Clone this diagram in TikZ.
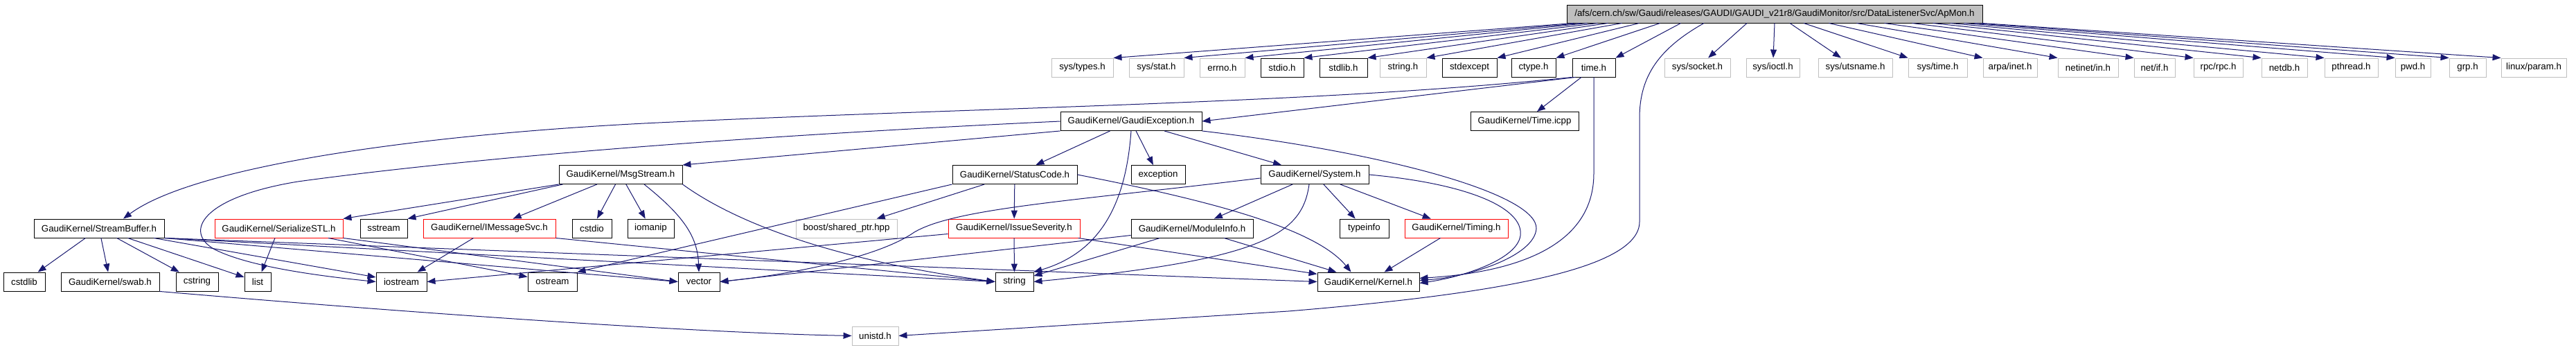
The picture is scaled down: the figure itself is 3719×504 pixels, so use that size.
\documentclass[tikz,border=0pt]{standalone}
\usepackage{fontspec}
\setmainfont{Liberation Sans}
\usetikzlibrary{arrows.meta}
\definecolor{edgeblue}{HTML}{191970}
\definecolor{boxgray}{HTML}{BFBFBF}
\tikzset{
  nd/.style={draw=black, fill=white, line width=0.9pt, minimum height=27pt, inner xsep=2pt, inner ysep=0pt, font=\fontsize{13.3}{15}\selectfont},
  gnd/.style={nd, draw=boxgray},
  rnd/.style={nd, draw=red},
  tnd/.style={nd, fill=boxgray, minimum height=26pt},
  dep/.style={draw=edgeblue, line width=1pt, -{Triangle[length=12pt,width=9pt]}}
}
\begin{document}
\begin{tikzpicture}[x=1pt,y=-1pt]
\useasboundingbox (0,0) rectangle (3719,504);
\fill[white] (0,0) rectangle (3719,504);

% title
\node[tnd, minimum width=600pt] (title) at (2562,20) {/afs/cern.ch/sw/Gaudi/releases/GAUDI/GAUDI\_v21r8/GaudiMonitor/src/DataListenerSvc/ApMon.h};

% top row
\node[gnd, minimum width=89pt] (types) at (1562.5,97.5) {sys/types.h};
\node[gnd, minimum width=79pt] (stat) at (1669.5,97.5) {sys/stat.h};
\node[gnd, minimum width=65pt] (errno) at (1764.5,97.5) {errno.h};
\node[nd, minimum width=62pt] (stdio) at (1851,97.5) {stdio.h};
\node[nd, minimum width=69pt] (stdlib) at (1939.5,97.5) {stdlib.h};
\node[gnd, minimum width=67pt] (stringh) at (2025.5,97.5) {string.h};
\node[nd, minimum width=79pt] (stdexcept) at (2121.5,97.5) {stdexcept};
\node[nd, minimum width=64pt] (ctype) at (2214,97.5) {ctype.h};
\node[nd, minimum width=62pt] (time) at (2301,97.5) {time.h};
\node[gnd, minimum width=95pt] (socket) at (2450.5,97.5) {sys/socket.h};
\node[gnd, minimum width=77pt] (ioctl) at (2559.5,97.5) {sys/ioctl.h};
\node[gnd, minimum width=107pt] (utsname) at (2678.5,97.5) {sys/utsname.h};
\node[gnd, minimum width=85pt] (systime) at (2797.5,97.5) {sys/time.h};
\node[gnd, minimum width=78pt] (inet) at (2902,97.5) {arpa/inet.h};
\node[gnd, minimum width=87pt] (netinet) at (3014.5,97.5) {netinet/in.h};
\node[gnd, minimum width=59pt] (netif) at (3110.5,97.5) {net/if.h};
\node[gnd, minimum width=71pt] (rpc) at (3202.5,97.5) {rpc/rpc.h};
\node[gnd, minimum width=66pt] (netdb) at (3298,97.5) {netdb.h};
\node[gnd, minimum width=77pt] (pthread) at (3394.5,97.5) {pthread.h};
\node[gnd, minimum width=51pt] (pwd) at (3483.5,97.5) {pwd.h};
\node[gnd, minimum width=53pt] (grp) at (3562.5,97.5) {grp.h};
\node[gnd, minimum width=94pt] (param) at (3658,97.5) {linux/param.h};

% row 2
\node[nd, minimum width=204pt] (gexc) at (1633,175) {GaudiKernel/GaudiException.h};
\node[nd, minimum width=156pt] (ticpp) at (2201,175) {GaudiKernel/Time.icpp};

% row 3
\node[nd, minimum width=178pt] (msg) at (896,252) {GaudiKernel/MsgStream.h};
\node[nd, minimum width=180pt] (status) at (1465,252) {GaudiKernel/StatusCode.h};
\node[nd, minimum width=78pt] (exception) at (1672,252) {exception};
\node[nd, minimum width=156pt] (system) at (1898,252) {GaudiKernel/System.h};

% row 4
\node[nd, minimum width=188pt] (sbuf) at (143,329.5) {GaudiKernel/StreamBuffer.h};
\node[rnd, minimum width=185pt] (ser) at (402.5,329.5) {GaudiKernel/SerializeSTL.h};
\node[nd, minimum width=68pt] (sstream) at (554,329.5) {sstream};
\node[rnd, minimum width=191pt] (imsg) at (706.5,329.5) {GaudiKernel/IMessageSvc.h};
\node[nd, minimum width=57pt] (cstdio) at (854.5,329.5) {cstdio};
\node[nd, minimum width=67pt] (iomanip) at (939.5,329.5) {iomanip};
\node[gnd, minimum width=146pt] (boost) at (1222,329.5) {boost/shared\_ptr.hpp};
\node[rnd, minimum width=190pt] (issue) at (1464,329.5) {GaudiKernel/IssueSeverity.h};
\node[nd, minimum width=176pt] (module) at (1721,329.5) {GaudiKernel/ModuleInfo.h};
\node[nd, minimum width=71pt] (typeinfo) at (1969.5,329.5) {typeinfo};
\node[rnd, minimum width=149pt] (timing) at (2102.5,329.5) {GaudiKernel/Timing.h};

% row 5
\node[nd, minimum width=60pt] (cstdlib) at (35,406.5) {cstdlib};
\node[nd, minimum width=142pt] (swab) at (159,406.5) {GaudiKernel/swab.h};
\node[nd, minimum width=61pt] (cstring) at (284.5,406.5) {cstring};
\node[nd, minimum width=38pt] (list) at (372,406.5) {list};
\node[nd, minimum width=73pt] (iostream) at (579.5,406.5) {iostream};
\node[nd, minimum width=71pt] (ostream) at (797.5,406.5) {ostream};
\node[nd, minimum width=60pt] (vector) at (1009,406.5) {vector};
\node[nd, minimum width=55pt] (string) at (1464.5,406.5) {string};
\node[nd, minimum width=147pt] (kernel) at (1975.5,406.5) {GaudiKernel/Kernel.h};

% row 6
\node[gnd, minimum width=67pt] (unistd) at (1263.5,484.5) {unistd.h};

% ---- edges from title
\draw[dep] ([xshift=10pt]title.south west) -- (types.north east);
\draw[dep] ([xshift=20pt]title.south west) -- (stat.north east);
\draw[dep] ([xshift=30pt]title.south west) -- (errno.north east);
\draw[dep] ([xshift=45pt]title.south west) -- (stdio.north east);
\draw[dep] ([xshift=60pt]title.south west) -- (stdlib.north east);
\draw[dep] ([xshift=80pt]title.south west) -- (stringh.north east);
\draw[dep] ([xshift=105pt]title.south west) -- (stdexcept.north east);
\draw[dep] ([xshift=135pt]title.south west) -- (ctype.north east);
\draw[dep] ([xshift=165pt]title.south west) -- (time.north east);
\draw[dep] ([xshift=-40pt]title.south) -- (socket);
\draw[dep] (title.south) -- (ioctl);
\draw[dep] ([xshift=22pt]title.south) -- (utsname);
\draw[dep] ([xshift=42pt]title.south) -- (systime.north west);
\draw[dep] ([xshift=-222pt]title.south east) -- (inet.north west);
\draw[dep] ([xshift=-182pt]title.south east) -- (netinet.north west);
\draw[dep] ([xshift=-142pt]title.south east) -- (netif.north west);
\draw[dep] ([xshift=-102pt]title.south east) -- (rpc.north west);
\draw[dep] ([xshift=-72pt]title.south east) -- (netdb.north west);
\draw[dep] ([xshift=-47pt]title.south east) -- (pthread.north west);
\draw[dep] ([xshift=-27pt]title.south east) -- (pwd.north west);
\draw[dep] ([xshift=-12pt]title.south east) -- (grp.north west);
\draw[dep] ([xshift=-2pt]title.south east) -- (param.north west);
\draw[dep] ([xshift=-102pt]title.south) .. controls (2395,70) and (2367,110) .. (2367,170) -- (2367,320) .. controls (2367,390) and (2150,425) .. (1860,449) -- (unistd.east);

% ---- time.h
\draw[dep] ([xshift=5pt]time.south west) -- (gexc.east);
\draw[dep] (time.south west) .. controls (1900,150) and (1400,155) .. (930,178) .. controls (600,195) and (280,240) .. ([xshift=35pt]sbuf.north);
\draw[dep] (time) -- (ticpp);
\draw[dep] (time.south) -- (2301,250) .. controls (2301,350) and (2200,392) .. ([yshift=5pt]kernel.east);

% ---- GaudiException.h
\draw[dep] (gexc.south west) -- (msg.north east);
\draw[dep] (gexc.west) .. controls (1100,195) and (700,225) .. (430,262) .. controls (290,285) and (265,335) .. (310,360) .. controls (360,385) and (460,398) .. (iostream.west);
\draw[dep] (gexc) -- (status);
\draw[dep] (gexc) -- (exception);
\draw[dep] (gexc) -- (system);
\draw[dep] (gexc.south) .. controls (1625,300) and (1585,365) .. (string.north east);
\draw[dep] (gexc.south east) .. controls (2000,220) and (2220,280) .. (2218,330) .. controls (2215,370) and (2120,400) .. ([yshift=2pt]kernel.east);

% ---- MsgStream.h
\draw[dep] (msg.south west) -- (ser.north east);
\draw[dep] ([xshift=6pt]msg.south west) -- (sstream.north east);
\draw[dep] (msg) -- (imsg);
\draw[dep] (msg) -- (cstdio);
\draw[dep] (msg) -- (iomanip);
\draw[dep] ([xshift=34pt]msg.south) .. controls (985,310) and (1007,340) .. (vector.north);
\draw[dep] (msg.south east) .. controls (1060,320) and (1200,375) .. (string.west);

% ---- StatusCode.h
\draw[dep] (status.south west) -- (ostream.north east);
\draw[dep] (status) -- (boost);
\draw[dep] (status) -- (issue);
\draw[dep] (status.east) .. controls (1750,290) and (1900,330) .. ([xshift=-25pt]kernel.north);

% ---- IssueSeverity.h
\draw[dep] (issue) -- (string);
\draw[dep] ([yshift=-8pt]issue.west) -- (iostream.east);
\draw[dep] (issue) -- (kernel);

% ---- ModuleInfo.h
\draw[dep] ([yshift=-10pt]module.west) -- (vector.east);
\draw[dep] (module) -- (string);
\draw[dep] (module) -- (kernel);

% ---- System.h
\draw[dep] (system) -- (module);
\draw[dep] (system) -- (typeinfo);
\draw[dep] (system) -- (timing);
\draw[dep] ([xshift=-8pt]system.south) .. controls (1880,340) and (1820,375) .. (string.east);
\draw[dep] ([yshift=-5pt]system.west) .. controls (1550,290) and (1380,300) .. (1320,335) .. controls (1270,370) and (1150,395) .. (vector.east);
\draw[dep] (system.east) .. controls (2120,265) and (2200,300) .. (2195,340) .. controls (2190,375) and (2110,400) .. ([yshift=-2pt]kernel.east);

% ---- Timing.h
\draw[dep] (timing) -- (kernel);

% ---- IMessageSvc.h
\draw[dep] (imsg) -- (iostream);
\draw[dep] (imsg.south east) -- (string.west);

% ---- SerializeSTL.h
\draw[dep] (ser) -- (list);
\draw[dep] (ser) -- (ostream);
\draw[dep] (ser.south east) -- (vector.west);

% ---- StreamBuffer.h
\draw[dep] (sbuf) -- (cstdlib);
\draw[dep] (sbuf) -- (swab);
\draw[dep] (sbuf) -- (cstring);
\draw[dep] (sbuf) -- (list);
\draw[dep] (sbuf) -- (iostream);
\draw[dep] (sbuf.south east) -- (vector.west);
\draw[dep] (sbuf.south east) -- (string.west);
\draw[dep] (sbuf.south east) -- (kernel.west);

% ---- swab.h
\draw[dep] (swab.south east) .. controls (600,452) and (1000,480) .. (unistd.west);
\end{tikzpicture}
\end{document}
